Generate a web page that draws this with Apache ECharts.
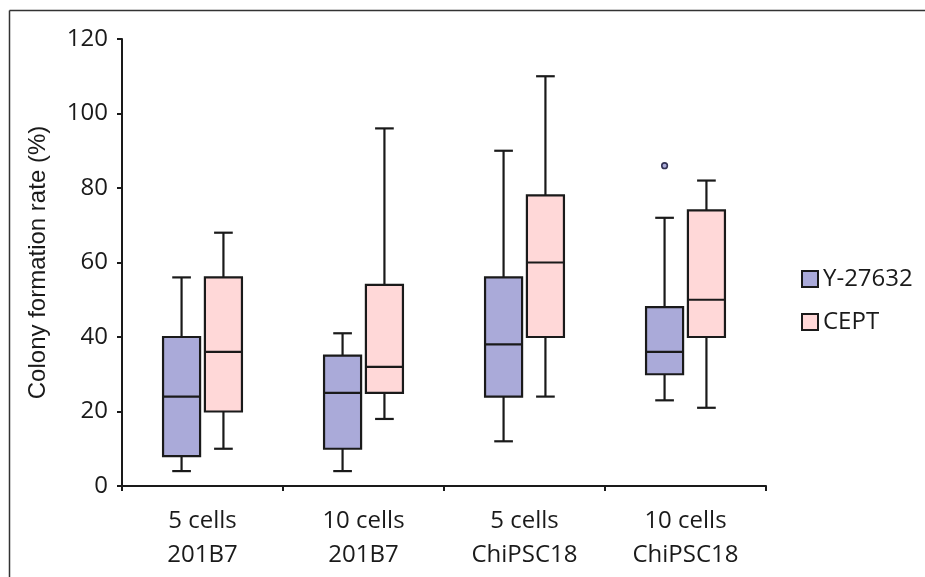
<!DOCTYPE html>
<html>
<head>
<meta charset="utf-8">
<script src="https://cdn.jsdelivr.net/npm/echarts@6/dist/echarts.min.js"></script>
<style>html,body{margin:0;padding:0;background:#fff}#c{width:925px;height:577px}</style>
</head>
<body>
<div id="c"></div>
<script>
const categories = ['5 cells\n201B7', '10 cells\n201B7', '5 cells\nChiPSC18', '10 cells\nChiPSC18'];
const yTicks = [0, 20, 40, 60, 80, 100, 120];
// Y-27632
const yMin = [4, 4, 12, 23];
const yQ1 = [8, 10, 24, 30];
const yMedian = [24, 25, 38, 36];
const yQ3 = [40, 35, 56, 48];
const yMax = [56, 41, 90, 72];
const yOutliers = [[3, 86]];
// CEPT
const cMin = [10, 18, 24, 21];
const cQ1 = [20, 25, 40, 40];
const cMedian = [36, 32, 60, 50];
const cQ3 = [56, 54, 78, 74];
const cMax = [68, 96, 110, 82];

const COL_Y = '#aaaad9';
const COL_C = '#ffd8d8';
const STROKE = '#1a1a1a';

function toData(mn, q1, md, q3, mx) {
  return categories.map((_, i) => [i, mn[i], q1[i], md[i], q3[i], mx[i]]);
}

function boxRender(offset, fill) {
  return function (params, api) {
    const i = api.value(0);
    const band = api.size([1, 0])[0];
    const cx = api.coord([i, 0])[0] + offset * band;
    const w = 0.23 * band;
    const cap = 0.058 * band;
    const pMin = api.coord([i, api.value(1)])[1];
    const pQ1 = api.coord([i, api.value(2)])[1];
    const pMed = api.coord([i, api.value(3)])[1];
    const pQ3 = api.coord([i, api.value(4)])[1];
    const pMax = api.coord([i, api.value(5)])[1];
    const ls = { stroke: STROKE, lineWidth: 2.2 };
    return {
      type: 'group',
      children: [
        { type: 'line', shape: { x1: cx, y1: pQ3, x2: cx, y2: pMax }, style: ls },
        { type: 'line', shape: { x1: cx, y1: pQ1, x2: cx, y2: pMin }, style: ls },
        { type: 'line', shape: { x1: cx - cap, y1: pMax, x2: cx + cap, y2: pMax }, style: ls },
        { type: 'line', shape: { x1: cx - cap, y1: pMin, x2: cx + cap, y2: pMin }, style: ls },
        { type: 'rect', shape: { x: cx - w / 2, y: pQ3, width: w, height: pQ1 - pQ3 }, style: { fill: fill, stroke: STROKE, lineWidth: 2.2 } },
        { type: 'line', shape: { x1: cx - w / 2, y1: pMed, x2: cx + w / 2, y2: pMed }, style: ls }
      ]
    };
  };
}

function outlierRender(offset, fill) {
  return function (params, api) {
    const i = api.value(0);
    const band = api.size([1, 0])[0];
    const p = api.coord([i, api.value(1)]);
    return { type: 'circle', shape: { cx: p[0] + offset * band, cy: p[1], r: 2.8 }, style: { fill: fill, stroke: '#333355', lineWidth: 1.6 } };
  };
}

const chart = echarts.init(document.getElementById('c'), null, { renderer: 'canvas' });
chart.setOption({
  animation: false,
  backgroundColor: '#fff',
  graphic: [
    { type: 'line', shape: { x1: 9.5, y1: 10.5, x2: 925, y2: 10.5 }, style: { stroke: '#333', lineWidth: 1.5 } },
    { type: 'line', shape: { x1: 9.5, y1: 10.5, x2: 9.5, y2: 577 }, style: { stroke: '#333', lineWidth: 1.5 } }
  ],
  legend: {
    orient: 'vertical',
    left: 796,
    top: 262,
    itemWidth: 16,
    itemHeight: 16,
    itemGap: 19,
    icon: 'rect',
    textStyle: { fontFamily: 'Open Sans', fontSize: 24, color: '#1a1a1a' },
    data: [
      { name: 'Y-27632', itemStyle: { color: COL_Y, borderColor: STROKE, borderWidth: 2 } },
      { name: 'CEPT', itemStyle: { color: COL_C, borderColor: STROKE, borderWidth: 2 } }
    ]
  },
  grid: { left: 122, right: 159, top: 39, bottom: 91, containLabel: false },
  xAxis: {
    type: 'category',
    data: categories,
    boundaryGap: true,
    axisLine: { lineStyle: { color: STROKE, width: 2 } },
    axisTick: { show: true, length: 5, lineStyle: { color: STROKE, width: 2 } },
    axisLabel: { fontFamily: 'Open Sans', fontSize: 24, color: '#1a1a1a', lineHeight: 34, margin: 18 },
    splitLine: { show: false }
  },
  yAxis: {
    type: 'value',
    min: 0,
    max: 120,
    interval: 20,
    name: 'Colony formation rate (%)',
    nameLocation: 'middle',
    nameGap: 72,
    nameTextStyle: { fontFamily: 'Liberation Sans', fontSize: 24, color: '#1a1a1a' },
    axisLine: { show: true, lineStyle: { color: STROKE, width: 2 } },
    axisTick: { show: true, length: 5, lineStyle: { color: STROKE, width: 2 } },
    axisLabel: { fontFamily: 'Open Sans', fontSize: 24, color: '#1a1a1a', margin: 14,
      formatter: v => yTicks.includes(v) ? String(v) : '' },
    splitLine: { show: false }
  },
  series: [
    { name: 'Y-27632', type: 'custom', renderItem: boxRender(-0.13, COL_Y), data: toData(yMin, yQ1, yMedian, yQ3, yMax), encode: { x: 0, y: [1, 2, 3, 4, 5] }, itemStyle: { color: COL_Y } },
    { name: 'CEPT', type: 'custom', renderItem: boxRender(0.13, COL_C), data: toData(cMin, cQ1, cMedian, cQ3, cMax), encode: { x: 0, y: [1, 2, 3, 4, 5] }, itemStyle: { color: COL_C } },
    { name: 'Y-27632', type: 'custom', renderItem: outlierRender(-0.13, COL_Y), data: yOutliers, encode: { x: 0, y: 1 }, itemStyle: { color: COL_Y } }
  ]
});
</script>
</body>
</html>
